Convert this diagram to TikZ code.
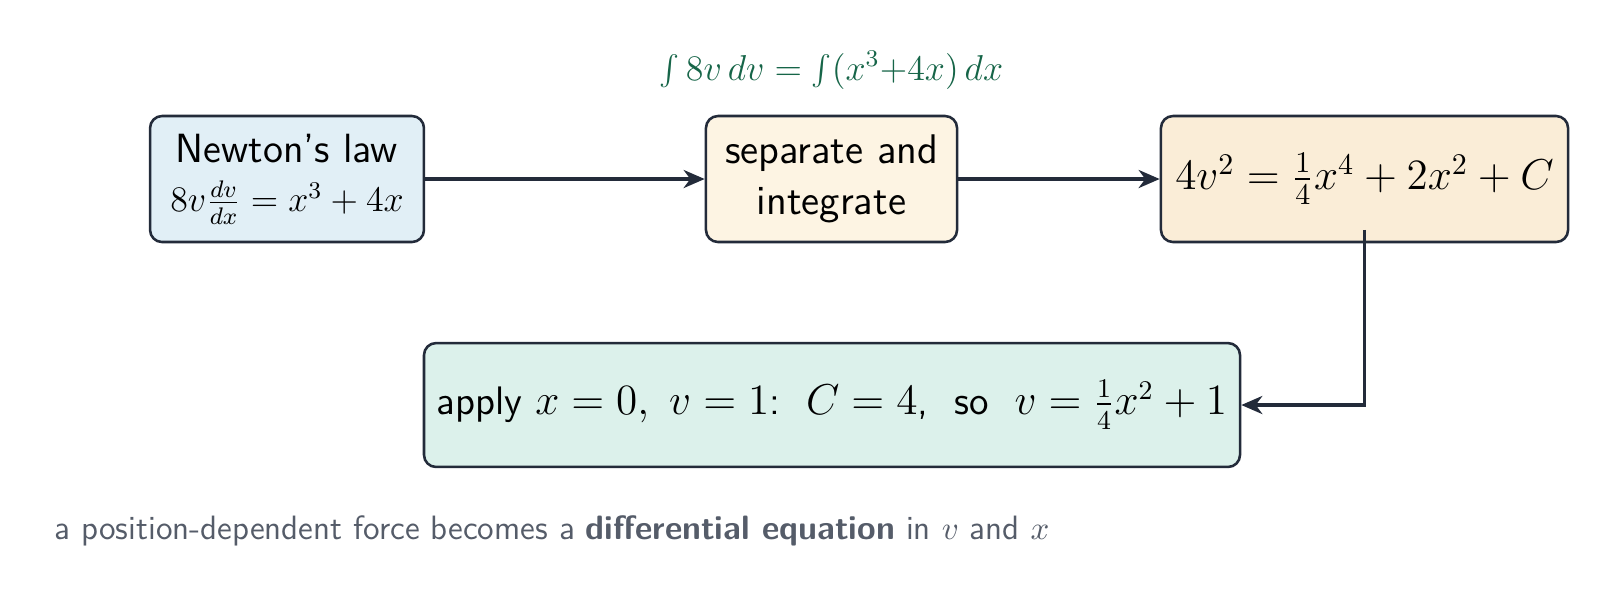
\documentclass[tikz,border=0pt]{standalone}
\usepackage{fontspec}
\usetikzlibrary{arrows.meta}
\definecolor{edge}{RGB}{35,43,58}
\definecolor{fillA}{RGB}{225,239,246}
\definecolor{fillB}{RGB}{253,244,227}
\definecolor{fillC}{RGB}{250,237,215}
\definecolor{fillD}{RGB}{220,241,235}
\definecolor{eqgreen}{RGB}{22,101,72}
\definecolor{capgrey}{RGB}{85,92,105}
\tikzset{
  box/.style={draw=edge, line width=0.85pt, rounded corners=4pt, align=center,
    inner sep=0pt, text=black},
  conn/.style={draw=edge, line width=1.3pt, -{Stealth[length=7pt,width=6pt,inset=2.2pt]}},
}
\begin{document}
\begin{tikzpicture}[x=0.33333pt, y=-0.33333pt]
\useasboundingbox (0,0) rectangle (1610,598);
\node[box, fill=fillA, minimum width=91.3pt, minimum height=42pt,
  font=\sffamily\fontsize{13.6}{17}\selectfont] (b1) at (287,179)
  {Newton's law\\[-0.5pt] {\fontsize{12.1}{14}\selectfont$8v\frac{dv}{dx}=x^3+4x$}};
\node[box, fill=fillB, minimum width=83.7pt, minimum height=42pt,
  font=\sffamily\fontsize{13.8}{17}\selectfont] (b2) at (831.5,179)
  {separate and\\integrate};
\node[box, fill=fillC, minimum width=135.7pt, minimum height=42pt,
  font=\sffamily\fontsize{14.6}{17}\selectfont] (b3) at (1364.5,179)
  {$4v^2=\frac{1}{4}x^4+2x^2+C$};
\node[box, fill=fillD, minimum width=272pt, minimum height=41.3pt,
  font=\sffamily\fontsize{13.25}{17}\selectfont] (b4) at (832,405)
  {apply $x=0,\ v=1$:\ \ $C=4$,\ \ so\ \ $v=\frac{1}{4}x^2+1$};
\node[anchor=base, text=eqgreen, font=\fontsize{11.8}{14}\selectfont] (lab) at (831.5,80)
  {$\int 8v\,dv=\int(x^3{+}4x)\,dx$};
\node[anchor=base west, text=capgrey, font=\sffamily\fontsize{11.26}{13}\selectfont, inner sep=0pt] (cap) at (54,539)
  {a position-dependent force becomes a \textbf{differential equation} in $v$ and $x$};
\draw[conn] (b1.east) -- (b2.west);
\draw[conn] (b2.east) -- (b3.west);
\draw[conn] ([yshift=4.5pt]b3.south) |- (b4.east);
\end{tikzpicture}
\end{document}
